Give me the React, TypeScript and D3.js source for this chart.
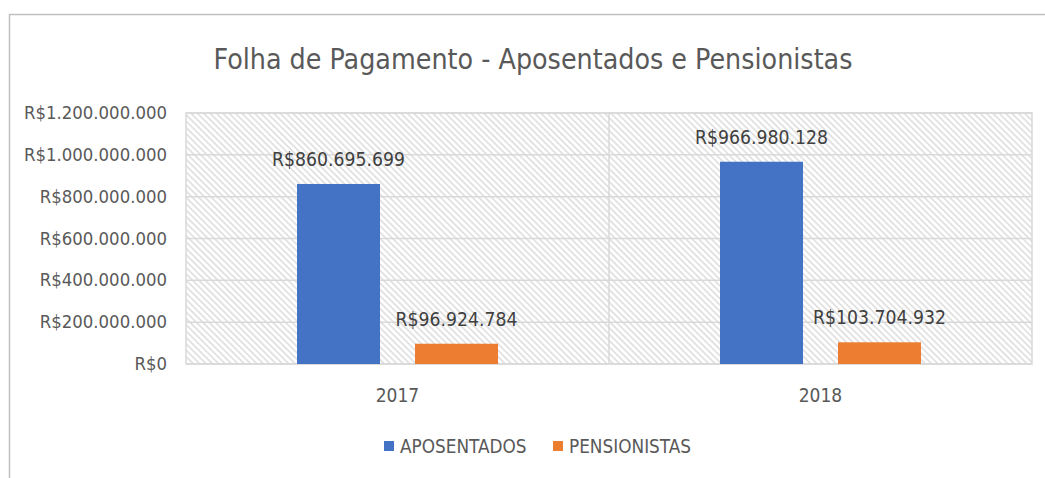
import React from 'react';
import * as d3 from 'd3';

const title = 'Folha de Pagamento - Aposentados e Pensionistas';
const categories = ['2017', '2018'];
const seriesNames = ['APOSENTADOS', 'PENSIONISTAS'];
const aposentados = [860695699, 966980128];
const pensionistas = [96924784, 103704932];
const yTicks = [0, 200000000, 400000000, 600000000, 800000000, 1000000000, 1200000000];
const colors = ['#4472c4', '#ed7d31'];

const W = 1045;
const H = 478;
const plot = { left: 186, right: 1032, top: 113, bottom: 364 };
const FONT = '"Liberation Sans Narrow", "Arial Narrow", "DejaVu Sans Condensed", sans-serif';

const brl = d3.formatLocale({ decimal: ',', thousands: '.', grouping: [3], currency: ['R$', ''] }).format('$,');

export default function App() {
  const seriesValues = [aposentados, pensionistas];
  const y = d3.scaleLinear().domain([0, 1200000000]).range([plot.bottom, plot.top]);
  const x0 = d3.scaleBand<string>().domain(categories).range([plot.left, plot.right]).paddingInner(0).paddingOuter(0);
  const x1 = d3
    .scaleBand<string>()
    .domain(seriesNames)
    .range([0, x0.bandwidth()])
    .paddingInner(35 / 118)
    .paddingOuter(0.9407);

  const legendItems = [
    { name: seriesNames[0], color: colors[0], x: 384 },
    { name: seriesNames[1], color: colors[1], x: 553 },
  ];

  return (
    <svg
      width={W}
      height={H}
      style={{ position: 'absolute', left: 0, top: 0, display: 'block', background: '#fff' }}
      fontFamily={FONT}
    >
      <defs>
        <pattern id="hatch" width="4.5" height="4.5" patternUnits="userSpaceOnUse" patternTransform="rotate(-45)">
          <rect width="4.5" height="4.5" fill="#ffffff" />
          <line x1="1" y1="0" x2="1" y2="4.5" stroke="#dcdcdc" strokeWidth="1.5" />
        </pattern>
      </defs>
      <rect x={0} y={0} width={W} height={H} fill="#fff" />
      {/* chart border */}
      <rect x={9.5} y={14.5} width={W + 20} height={H + 20} fill="none" stroke="#c0c0c0" strokeWidth={1.5} />

      <text x={533} y={69} textAnchor="middle" fontSize={28.3} fill="#595959">
        {title}
      </text>

      {/* plot area */}
      <rect
        x={plot.left}
        y={plot.top}
        width={plot.right - plot.left}
        height={plot.bottom - plot.top}
        fill="url(#hatch)"
        stroke="#d9d9d9"
        strokeWidth={1.5}
      />
      {yTicks.map((t) => (
        <line key={t} x1={plot.left} x2={plot.right} y1={y(t)} y2={y(t)} stroke="#d9d9d9" strokeWidth={1.5} />
      ))}
      {categories.slice(1).map((c) => (
        <line key={c} x1={x0(c)} x2={x0(c)} y1={plot.top} y2={plot.bottom} stroke="#d9d9d9" strokeWidth={1.5} />
      ))}

      {yTicks.map((t) => (
        <text key={t} x={167} y={y(t) + 6} textAnchor="end" fontSize={18.4} fill="#595959">
          {brl(t)}
        </text>
      ))}

      {categories.map((c, ci) =>
        seriesNames.map((s, si) => {
          const v = seriesValues[si][ci];
          const bx = (x0(c) ?? 0) + (x1(s) ?? 0);
          return (
            <g key={c + s}>
              <rect x={bx} y={y(v)} width={x1.bandwidth()} height={y(0) - y(v)} fill={colors[si]} />
              <text x={bx + x1.bandwidth() / 2} y={y(v) - 18} textAnchor="middle" fontSize={19.2} fill="#404040">
                {brl(v)}
              </text>
            </g>
          );
        })
      )}

      {categories.map((c) => (
        <text key={c} x={(x0(c) ?? 0) + x0.bandwidth() / 2} y={402} textAnchor="middle" fontSize={19} fill="#595959">
          {c}
        </text>
      ))}

      {legendItems.map((it) => (
        <g key={it.name}>
          <rect x={it.x} y={441} width={10} height={10} fill={it.color} />
          <text x={it.x + 16} y={453} fontSize={18.8} fill="#595959">
            {it.name}
          </text>
        </g>
      ))}
    </svg>
  );
}
